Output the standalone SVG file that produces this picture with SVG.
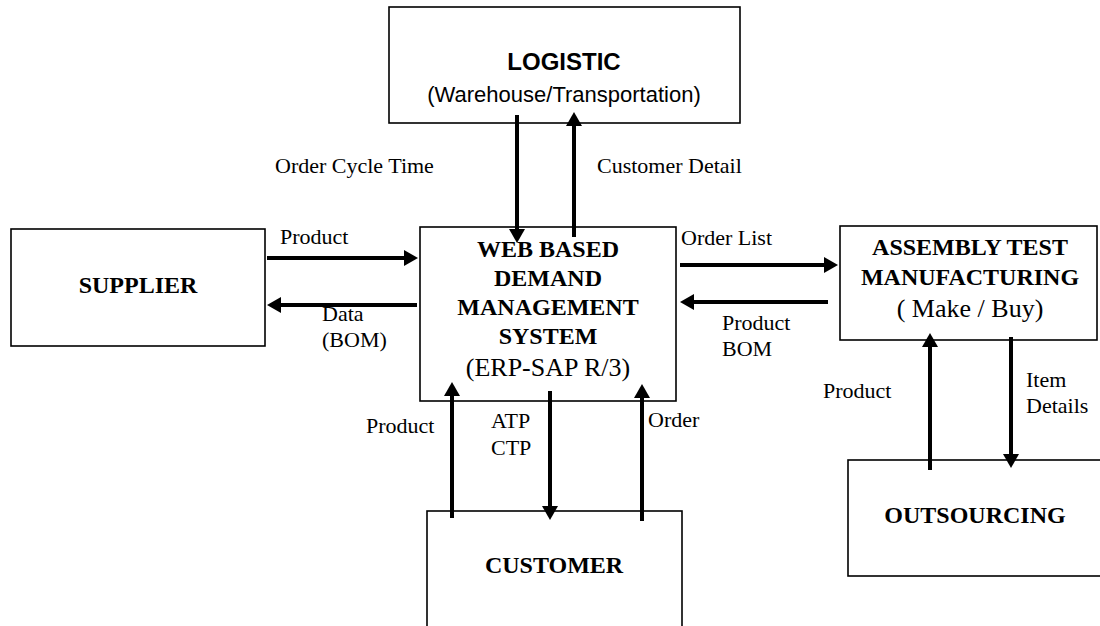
<svg xmlns="http://www.w3.org/2000/svg" width="1100" height="626" viewBox="0 0 1100 626">
<style>
.box{fill:#fff;stroke:#000;stroke-width:1.6}
.arr{stroke:#000;stroke-width:4;fill:none;marker-end:url(#ah)}
.lbl{font-family:"Liberation Serif","Times New Roman",serif;font-size:22px;fill:#000}
.tb{font-family:"Liberation Serif","Times New Roman",serif;font-size:24px;font-weight:bold;fill:#000;text-anchor:middle}
.tr{font-family:"Liberation Serif","Times New Roman",serif;font-size:26px;fill:#000;text-anchor:middle}
.sb{font-family:"Liberation Sans",Arial,sans-serif;font-size:24px;font-weight:bold;fill:#000;text-anchor:middle}
.sr{font-family:"Liberation Sans",Arial,sans-serif;font-size:22px;fill:#000;text-anchor:middle}
</style>
<defs>
<marker id="ah" markerUnits="userSpaceOnUse" viewBox="0 0 14 16" markerWidth="14" markerHeight="16" refX="6" refY="8" orient="auto">
<path d="M0,0 L14,8 L0,16 z" fill="#000"/>
</marker>
</defs>
<rect width="1100" height="626" fill="#fff"/>
<g id="logistic">
<rect class="box" x="389" y="7" width="351" height="116"/>
<text class="sb" x="564" y="70">LOGISTIC</text>
<text class="sr" x="564" y="102">(Warehouse/Transportation)</text>
</g>
<g id="web">
<rect class="box" x="420" y="227" width="256" height="174"/>
<text class="tb" x="548" y="257">WEB BASED</text>
<text class="tb" x="548" y="286">DEMAND</text>
<text class="tb" x="548" y="315">MANAGEMENT</text>
<text class="tb" x="548" y="344">SYSTEM</text>
<text class="tr" x="548" y="376">(ERP-SAP R/3)</text>
</g>
<g id="supplier">
<rect class="box" x="11" y="229" width="254" height="117"/>
<text class="tb" x="138" y="293">SUPPLIER</text>
</g>
<g id="assembly">
<rect class="box" x="840" y="226" width="257" height="114"/>
<text class="tb" x="970" y="255">ASSEMBLY TEST</text>
<text class="tb" x="970" y="285">MANUFACTURING</text>
<text class="tr" x="970" y="317">( Make / Buy)</text>
</g>
<g id="outsourcing">
<rect class="box" x="848" y="460" width="260" height="116"/>
<text class="tb" x="975" y="523">OUTSOURCING</text>
</g>
<g id="customer">
<rect class="box" x="427" y="511" width="255" height="130"/>
<text class="tb" x="554" y="573">CUSTOMER</text>
</g>
<g id="connectors">
<line class="arr" x1="517" y1="115" x2="517" y2="235"/>
<line class="arr" x1="574" y1="237" x2="574" y2="120"/>
<line class="arr" x1="267" y1="258" x2="410" y2="258"/>
<line class="arr" x1="417" y1="305" x2="275" y2="305"/>
<line class="arr" x1="680" y1="265" x2="830" y2="265"/>
<line class="arr" x1="828" y1="302" x2="688" y2="302"/>
<line class="arr" x1="452" y1="518" x2="452" y2="390"/>
<line class="arr" x1="550" y1="391" x2="550" y2="512"/>
<line class="arr" x1="642" y1="521" x2="642" y2="392"/>
<line class="arr" x1="930" y1="470" x2="930" y2="341"/>
<line class="arr" x1="1011" y1="337" x2="1011" y2="460"/>
</g>
<g id="labels">
<text class="lbl" x="275" y="173">Order Cycle Time</text>
<text class="lbl" x="597" y="173">Customer Detail</text>
<text class="lbl" x="280" y="244">Product</text>
<text class="lbl" x="322" y="321">Data</text>
<text class="lbl" x="322" y="347">(BOM)</text>
<text class="lbl" x="681" y="245">Order List</text>
<text class="lbl" x="722" y="330">Product</text>
<text class="lbl" x="722" y="356">BOM</text>
<text class="lbl" x="366" y="433">Product</text>
<text class="lbl" x="491" y="428">ATP</text>
<text class="lbl" x="491" y="455">CTP</text>
<text class="lbl" x="648" y="427">Order</text>
<text class="lbl" x="823" y="398">Product</text>
<text class="lbl" x="1026" y="387">Item</text>
<text class="lbl" x="1026" y="413">Details</text>
</g>
</svg>
